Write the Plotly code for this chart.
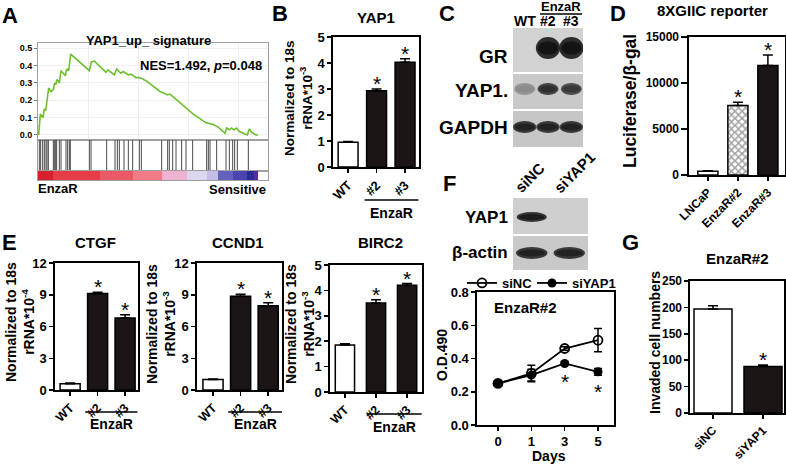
import plotly.graph_objects as go

W, H = 786, 464
FONT = "Liberation Sans, Arial, Helvetica, sans-serif"

# ---------------- DATA ----------------
# Panel A : GSEA running enrichment score (rank, ES) and hit positions
gsea_rank = [67, 233, 500, 633, 767, 1067, 1300, 1533, 1667, 1767, 1900, 2133, 2300, 2533, 2733, 2867, 3067, 3267,
             5133, 5333, 5633, 6800, 7000, 7633, 7867, 8267, 8533, 9033, 9300, 9800, 10133, 10367, 10867,
             12200, 12967, 13200, 15533, 16800, 17533, 18033, 18700, 18867, 19133, 19333, 19600, 19867, 20133,
             20933, 21133, 21367, 21800, 22000]
gsea_es = [0.0, 0.12, 0.10, 0.15, 0.14, 0.27, 0.25, 0.26, 0.30, 0.29, 0.32, 0.30, 0.37, 0.35, 0.34, 0.38, 0.37, 0.465,
           0.37, 0.42, 0.425, 0.36, 0.375, 0.345, 0.38, 0.355, 0.365, 0.345, 0.35, 0.33, 0.33, 0.325, 0.31,
           0.25, 0.23, 0.235, 0.12, 0.07, 0.06, 0.045, 0.01, 0.04, 0.03, 0.04, 0.03, 0.04, 0.02,
           0.0, 0.035, 0.015, 0.0, 0.0]
gsea_hits = [133, 267, 467, 633, 800, 900, 1033, 1533, 1633, 1767, 1867, 2133, 2300, 2800, 2967, 3133, 3233,
             5133, 5300, 6867, 7700, 7933, 8133, 8600, 9033, 9467, 10133, 10333, 12367, 12967, 13133, 13467,
             13800, 14367, 14800, 15467, 16867, 17033, 17200, 17867, 18800, 19133, 19467, 19667, 19933, 21033]
rank_seg_edges = [0, 1533, 6200, 9533, 12367, 14867, 16867, 18033, 19533, 20867, 21600, 22000]
rank_seg_level = [0, 1, 2, 3, 4, 5, 6, 7, 8, 9, 10]
nes_text = "NES=1.492, <i>p</i>=0.048"

# Panel B : YAP1 mRNA
b_cats = ["WT", "#2", "#3"]
b_vals = [0.95, 2.93, 4.03]
b_errs = [0.03, 0.07, 0.13]
b_star = [False, True, True]

# Panel C : western blot band intensities (lanes WT, #2, #3)
c_lanes = ["WT", "#2", "#3"]
c_rows = ["GR", "YAP1.", "GAPDH"]
c_intensity = [[0.0, 1.0, 1.0],
               [0.35, 0.85, 0.8],
               [0.92, 0.92, 0.92]]

# Panel D : 8XGIIC reporter
d_cats = ["LNCaP", "EnzaR#2", "EnzaR#3"]
d_vals = [420, 7550, 11900]
d_errs = [40, 350, 1150]
d_star = [False, True, True]

# Panel E : CTGF, CCND1, BIRC2
e_cats = ["WT", "#2", "#3"]
ctgf_vals = [0.6, 9.12, 6.8]
ctgf_errs = [0.05, 0.12, 0.3]
ccnd1_vals = [1.0, 8.85, 7.95]
ccnd1_errs = [0.05, 0.2, 0.3]
birc2_vals = [1.85, 3.5, 4.2]
birc2_errs = [0.05, 0.13, 0.07]
e_star = [False, True, True]

# Panel F : blot + growth curve
f_lanes = ["siNC", "siYAP1"]
f_rows = ["YAP1", "β-actin"]
f_intensity = [[0.95, 0.0],
               [0.92, 0.92]]
f_days = ["0", "1", "3", "5"]
f_sinc = [0.25, 0.31, 0.46, 0.51]
f_sinc_err = [0.01, 0.05, 0.01, 0.07]
f_siyap = [0.25, 0.30, 0.37, 0.32]
f_siyap_err = [0.01, 0.035, 0.01, 0.02]
f_star = [False, False, True, True]

# Panel G : invasion
g_cats = ["siNC", "siYAP1"]
g_vals = [197, 88]
g_errs = [6, 3]
g_star = [False, True]

# ---------------- HELPERS ----------------
def px(x):
    return x / W


def py(y):
    return 1 - y / H


def dx(a, b):
    return [a / W, b / W]


def dy(top, bottom):
    return [1 - bottom / H, 1 - top / H]


def names(n):
    if n == 1:
        return "xaxis", "yaxis", "x", "y"
    return f"xaxis{n}", f"yaxis{n}", f"x{n}", f"y{n}"


def tfont(size=13):
    return dict(family=FONT, size=size, color="black", weight="bold")


AX = dict(showline=True, linecolor="black", linewidth=1.6, mirror=True, ticks="outside",
          ticklen=4, tickwidth=1.5, tickcolor="black", showgrid=False, zeroline=False,
          automargin=False, fixedrange=True, tickfont=tfont(13))

fig = go.Figure()
layout = {}
annots = []
shapes = []


def text(x, y, s, size=13, bold=True, xanchor="center", yanchor="middle", angle=0,
         xref="paper", yref="paper", xshift=0, yshift=0):
    f = dict(family=FONT, size=size, color="black")
    if bold:
        f["weight"] = "bold"
    annots.append(dict(x=x, y=y, xref=xref, yref=yref, text=s, showarrow=False, font=f,
                       xanchor=xanchor, yanchor=yanchor, textangle=angle,
                       xshift=xshift, yshift=yshift))


def bar_panel(n, cats, vals, errs, fills, stars, xdom, ydom, xr, yr, dtick, bw,
              patterns=None, tick_size=13, xtick_size=None, cap=5, yfmt=None, ticklen=4):
    xa, ya, xref, yref = names(n)
    xs = list(range(len(cats)))
    marker = dict(color=fills, line=dict(color="black", width=1.5))
    if patterns:
        marker["pattern"] = dict(shape=patterns, fgcolor="black", bgcolor="white",
                                 size=5, solidity=0.5)
    fig.add_trace(go.Bar(x=xs, y=vals, width=bw, marker=marker,
                         error_y=dict(type="data", array=errs, arrayminus=[0] * len(errs),
                                      symmetric=False, color="black", thickness=1.5, width=cap),
                         xaxis=xref, yaxis=yref, showlegend=False, hoverinfo="skip"))
    for xi, v, e, s in zip(xs, vals, errs, stars):
        if s:
            text(xi, v + e, "*", size=21, bold=False, yanchor="bottom", xref=xref, yref=yref,
                 yshift=-8)
    layout[xa] = dict(AX, domain=dx(*xdom), range=xr, tickvals=xs, ticktext=cats,
                      tickangle=-45, anchor=yref, tickfont=tfont(xtick_size or tick_size))
    layout[ya] = dict(AX, domain=dy(*ydom), range=yr, dtick=dtick, tick0=0, anchor=xref,
                      tickfont=tfont(tick_size), ticklen=ticklen)
    if yfmt:
        layout[ya]["tickformat"] = yfmt
    return xref


def enza_bracket(xref, y_line, y_text, x0=0.58, x1=2.47):
    shapes.append(dict(type="line", xref=xref, yref="paper", x0=x0, x1=x1,
                       y0=py(y_line), y1=py(y_line), line=dict(color="black", width=1.5)))
    text((x0 + x1) / 2, py(y_text), "EnzaR", size=14, xref=xref)


DARK = "#1c1515"

# ---------------- PANEL A ----------------
layout["xaxis"] = dict(domain=dx(38, 268), range=[0, 23000], showline=True, linecolor="#a0a0a0",
                       linewidth=1, mirror=True, ticks="", showticklabels=False, showgrid=True,
                       gridcolor="#ededed", dtick=5000, zeroline=False, automargin=False, anchor="y",
                       fixedrange=True)
layout["yaxis"] = dict(domain=dy(43, 140), range=[-0.029, 0.529], showline=True, linecolor="#a0a0a0",
                       linewidth=1, mirror=True, ticks="outside", ticklen=3, tickcolor="#777",
                       dtick=0.1, tick0=0, tickformat=".1f", tickfont=tfont(9), showgrid=True,
                       gridcolor="#f0f0f0", zeroline=False, automargin=False, anchor="x",
                       fixedrange=True)
fig.add_trace(go.Scatter(x=gsea_rank, y=gsea_es, mode="lines", line=dict(color="#6cbf2e", width=1.6),
                         xaxis="x", yaxis="y", showlegend=False, hoverinfo="skip"))

hx, hy = [], []
for r in gsea_hits:
    hx += [r, r, None]
    hy += [0, 1, None]
layout["xaxis2"] = dict(domain=dx(38, 268), range=[0, 23000], showline=True, linecolor="#a0a0a0",
                        linewidth=1, mirror=True, ticks="", showticklabels=False, showgrid=False,
                        zeroline=False, automargin=False, anchor="y2", fixedrange=True)
layout["yaxis2"] = dict(domain=dy(140, 171), range=[0, 1], showline=True, linecolor="#a0a0a0",
                        linewidth=1, mirror=True, ticks="", showticklabels=False, showgrid=False,
                        zeroline=False, automargin=False, anchor="x2", fixedrange=True)
fig.add_trace(go.Scatter(x=hx, y=hy, mode="lines", line=dict(color="#4a4a4a", width=1),
                         xaxis="x2", yaxis="y2", showlegend=False, hoverinfo="skip"))

seg_colors = ["#d6212d", "#e63c47", "#ea5a66", "#ee7b86", "#efb3d2", "#dcd7ef", "#c2bee6",
              "#6461bd", "#4a46ad", "#2c2a95", "#5a2c9c"]
nseg = len(seg_colors)
cs = []
for i, c in enumerate(seg_colors):
    cs.append([i / nseg, c])
    cs.append([(i + 1) / nseg, c])
layout["xaxis3"] = dict(domain=dx(38, 268), range=[0, 23000], showline=True, linecolor="#a0a0a0",
                        linewidth=1, mirror=True, ticks="", showticklabels=False, showgrid=False,
                        zeroline=False, automargin=False, anchor="y3", fixedrange=True)
layout["yaxis3"] = dict(domain=dy(171, 180), range=[0, 1], showline=True, linecolor="#a0a0a0",
                        linewidth=1, mirror=True, ticks="", showticklabels=False, showgrid=False,
                        zeroline=False, automargin=False, anchor="x3", fixedrange=True)
fig.add_trace(go.Heatmap(z=[rank_seg_level], x=rank_seg_edges, y=[0, 1], colorscale=cs,
                         zmin=-0.5, zmax=nseg - 0.5, showscale=False, xaxis="x3", yaxis="y3",
                         hoverinfo="skip"))
text(px(148), py(40), "YAP1_up_ signature", size=13)
text(px(201), py(65), nes_text, size=13)
text(px(36), py(188), "EnzaR", size=13, xanchor="left")
text(px(268), py(189), "Sensitive", size=13, xanchor="right")

# ---------------- PANEL B ----------------
xb = bar_panel(4, b_cats, b_vals, b_errs, ["white", DARK, DARK], b_star,
               (333, 419), (37, 167), [-0.53, 2.49], [0, 5], 1, 0.7)
enza_bracket(xb, 200, 213)
text(px(376), py(17), "YAP1", size=15)
text(px(298), py(98), "Normalized to 18s<br>rRNA*10<sup>-3</sup>", size=13.5, angle=-90)

# ---------------- PANEL C (blot) ----------------
layout["xaxis5"] = dict(domain=dx(513, 583), range=[-0.5, 2.5], visible=False, anchor="y5", fixedrange=True)
layout["yaxis5"] = dict(domain=dy(28, 147), range=[0, 1], visible=False, anchor="x5", fixedrange=True)
c_row_box = [(28, 72), (74, 109), (111, 147)]
c_row_bg = ["#d2d2d2", "#c9c9c9", "#c6c6c6"]
c_band = [(48, 11, 0.52), (89, 6, 0.45), (127, 6, 0.5)]
c_label_y = [57, 90, 127]


def draw_blot(xref, x0px, x1px, rows_box, bgs, bands, inten, lab_y, labels, lab_size):
    for (t, b), bg in zip(rows_box, bgs):
        shapes.append(dict(type="rect", xref="paper", yref="paper", x0=px(x0px), x1=px(x1px),
                           y0=py(b), y1=py(t), fillcolor=bg, line=dict(width=0), layer="below"))
    for (cy, hh, hw), row in zip(bands, inten):
        for lane, v in enumerate(row):
            if v <= 0:
                continue
            g = int(205 * (1 - v) + 20 * v)
            g2 = int(205 * (1 - v) + 45 * v)
            shapes.append(dict(type="circle", xref=xref, yref="paper", x0=lane - hw, x1=lane + hw,
                               y0=py(cy + hh), y1=py(cy - hh),
                               fillcolor=f"rgb({g2},{g2},{g2})", line=dict(width=0), layer="above"))
            shapes.append(dict(type="circle", xref=xref, yref="paper", x0=lane - hw * 0.85,
                               x1=lane + hw * 0.85, y0=py(cy + hh * 0.6), y1=py(cy - hh * 0.6),
                               fillcolor=f"rgb({g},{g},{g})", line=dict(width=0), layer="above"))
    for yy, lab in zip(lab_y, labels):
        text(px(510), py(yy), lab, size=lab_size, xanchor="right")


draw_blot("x5", 513, 583, c_row_box, c_row_bg, c_band, c_intensity, c_label_y, c_rows, 19)
for i, lab in enumerate(c_lanes):
    text(i, py(21), lab, size=14, xref="x5")
shapes.append(dict(type="line", xref="x5", yref="paper", x0=0.66, x1=2.46, y0=py(14), y1=py(14),
                   line=dict(color="black", width=1.5)))
text(1.56, py(6), "EnzaR", size=13, xref="x5")

# ---------------- PANEL D ----------------
bar_panel(6, d_cats, d_vals, d_errs, ["white", "white", DARK], d_star,
          (689, 785), (37, 175), [-0.63, 2.57], [0, 15000], 5000, 0.67,
          patterns=["", "x", ""], tick_size=12, yfmt="d", ticklen=6)
text(px(712), py(11), "8XGIIC reporter", size=15)
text(px(630), py(101), "Luciferase/β-gal", size=17.5, angle=-90)

# ---------------- PANEL E ----------------
x7 = bar_panel(7, e_cats, ctgf_vals, ctgf_errs, ["white", DARK, DARK], e_star,
               (55, 138), (263, 390), [-0.55, 2.47], [0, 12], 3, 0.73, xtick_size=12.5)
enza_bracket(x7, 412, 424, 0.55, 2.45)
text(px(95), py(243), "CTGF", size=15)
text(px(20), py(322), "Normalized to 18s<br>rRNA*10<sup>-4</sup>", size=14, angle=-90)

x8 = bar_panel(8, e_cats, ccnd1_vals, ccnd1_errs, ["white", DARK, DARK], e_star,
               (197, 282), (263, 390), [-0.58, 2.5], [0, 12], 3, 0.73, xtick_size=12.5)
enza_bracket(x8, 412, 424, 0.55, 2.5)
text(px(238), py(243), "CCND1", size=15)
text(px(161), py(324), "Normalized to 18s<br>rRNA*10<sup>-3</sup>", size=14, angle=-90)

x9 = bar_panel(9, e_cats, birc2_vals, birc2_errs, ["white", DARK, DARK], e_star,
               (330, 422), (265, 392), [-0.48, 2.48], [0, 5], 1, 0.62, xtick_size=12.5)
enza_bracket(x9, 414, 427, 0.7, 2.47)
text(px(380), py(243), "BIRC2", size=15)
text(px(300), py(324), "Normalized to 18s<br>rRNA*10<sup>-3</sup>", size=14, angle=-90)

# ---------------- PANEL F ----------------
layout["xaxis10"] = dict(domain=dx(513, 588), range=[-0.5, 1.5], visible=False, anchor="y10", fixedrange=True)
layout["yaxis10"] = dict(domain=dy(198, 270), range=[0, 1], visible=False, anchor="x10", fixedrange=True)
draw_blot("x10", 513, 588, [(198, 234), (236, 270)], ["#cfcfcf", "#c9c9c9"],
          [(217, 5, 0.4), (253, 6, 0.42)], f_intensity, [217, 253], f_rows, 17)
text(px(530), py(178), f_lanes[0], size=15, angle=-45)
text(px(574), py(172), f_lanes[1], size=15, angle=-45)

xf = list(range(len(f_days)))
fig.add_trace(go.Scatter(x=xf, y=f_sinc, mode="lines+markers", name="siNC", legend="legend",
                         line=dict(color="black", width=1.8),
                         marker=dict(symbol="circle-open", size=9, color="black", line=dict(width=1.8)),
                         error_y=dict(type="data", array=f_sinc_err, color="black", thickness=1.5, width=4),
                         xaxis="x11", yaxis="y11", hoverinfo="skip"))
fig.add_trace(go.Scatter(x=xf, y=f_siyap, mode="lines+markers", name="siYAP1", legend="legend2",
                         line=dict(color="black", width=1.8),
                         marker=dict(symbol="circle", size=9, color="black"),
                         error_y=dict(type="data", array=f_siyap_err, color="black", thickness=1.5, width=4),
                         xaxis="x11", yaxis="y11", hoverinfo="skip"))
for xi, v, e, s in zip(xf, f_siyap, f_siyap_err, f_star):
    if s:
        text(xi, v - e, "*", size=21, bold=False, yanchor="top", xref="x11", yref="y11", yshift=-3)
layout["xaxis11"] = dict(AX, domain=dx(477, 614), range=[-0.63, 3.48], tickvals=xf, ticktext=f_days,
                         anchor="y11")
layout["yaxis11"] = dict(AX, domain=dy(292, 425), range=[0, 0.8], dtick=0.2, tick0=0,
                         tickformat=".1f", anchor="x11")
text(px(492), py(307), "EnzaR#2", size=15, xanchor="left")
text(px(442), py(355), "O.D.490", size=14, angle=-90)
text(px(549), py(456), "Days", size=14)

# ---------------- PANEL G ----------------
bar_panel(12, g_cats, g_vals, g_errs, ["white", DARK], g_star,
          (690, 784), (281, 413), [-0.46, 1.42], [0, 250], 50, 0.76, tick_size=12)
text(px(737), py(258), "EnzaR#2", size=15)
text(px(655), py(343), "Invaded cell numbers", size=14, angle=-90)

# ---------------- panel letters ----------------
for lab, (lx, ly) in {"A": (10, 15), "B": (280, 13), "C": (447, 13), "D": (618, 13),
                      "E": (9, 243), "F": (450, 183), "G": (630, 243)}.items():
    text(px(lx), py(ly), lab, size=22)

leg_common = dict(orientation="h", yanchor="middle", xanchor="left", font=tfont(13),
                  bgcolor="rgba(0,0,0,0)", itemwidth=30, tracegroupgap=0)
fig.update_layout(
    width=W, height=H, margin=dict(l=0, r=0, t=0, b=0),
    paper_bgcolor="white", plot_bgcolor="white",
    showlegend=True,
    legend=dict(leg_common, x=px(462), y=py(283)),
    legend2=dict(leg_common, x=px(532), y=py(283)),
    annotations=annots, shapes=shapes, **layout)

fig.write_html("out.html", config={"displayModeBar": False, "staticPlot": True},
               post_script="document.body.style.margin='0';document.body.style.overflow='hidden';")
